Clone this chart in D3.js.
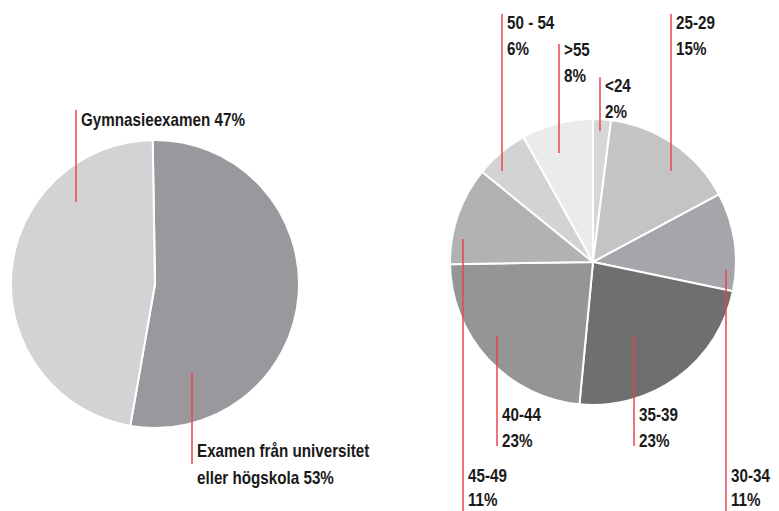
<!DOCTYPE html>
<html>
<head>
<meta charset="utf-8">
<script src="https://cdn.jsdelivr.net/npm/d3@7"></script>
<style>
  html, body { margin: 0; padding: 0; background: #fff; }
  svg text {
    font-family: "Liberation Sans Narrow", "Arial Narrow", "Liberation Sans", sans-serif;
    font-weight: bold;
    font-size: 19px;
    fill: #1a1a1a;
  }
</style>
</head>
<body>
<svg id="chart" width="779" height="511"></svg>
<script>
(function () {
  // ==================
  // Data
  // ==================
  const educationLabels = ['Examen från universitet', 'Gymnasieexamen'];
  const educationValues = [53, 47];
  const educationColors = ['#99989c', '#d3d2d5'];

  const ageGroups = ['<24', '25-29', '30-34', '35-39', '40-44', '45-49', '50 - 54', '>55'];
  const ageValues = [2, 15, 11, 23, 23, 11, 6, 8];
  const ageColors = ['#d6d5d8', '#c4c3c5', '#a6a5a9', '#6f6e70', '#959497', '#b2b1b4', '#d3d2d5', '#ebebeb'];

  const LEADER_COLOR = '#e8454e';
  const TEXT_SQUEEZE = 0.8; // condensed face is not installed, squeeze the regular one

  // ==================
  // Layout
  // ==================
  const LEFT_CX = 155;
  const LEFT_CY = 284;
  const LEFT_R = 144;
  const RIGHT_CX = 593;
  const RIGHT_CY = 262;
  const RIGHT_R = 143;

  // leader line + label placement, relative to pie center (index follows the data arrays)
  const educationLabelLayout = [
    { x: 37, y1: 89, y2: 180, lines: [educationLabels[0], 'eller högskola ' + educationValues[0] + '%'], ty: 173 },
    { x: -79, y1: -174, y2: -82, lines: [educationLabels[1] + ' ' + educationValues[1] + '%'], ty: -158 }
  ];
  const ageLabelLayout = [
    { x: 7, y1: -185, y2: -131, ty: -170, gap: 26 },
    { x: 78, y1: -248, y2: -91, ty: -233, gap: 26 },
    { x: 133, y1: 8, y2: 249, ty: 220, gap: 24 },
    { x: 41, y1: 74, y2: 184, ty: 159, gap: 26 },
    { x: -96, y1: 74, y2: 184, ty: 159, gap: 26 },
    { x: -130, y1: -23, y2: 249, ty: 220, gap: 24 },
    { x: -91, y1: -248, y2: -91, ty: -233, gap: 26 },
    { x: -34, y1: -218, y2: -109, ty: -206, gap: 26 }
  ];

  const svg = d3.select('#chart');

  const drawPie = (cx, cy, r, values, colors, startAngle) => {
    const pie = d3.pie().sort(null).startAngle(startAngle).endAngle(startAngle + 2 * Math.PI);
    const arc = d3.arc().innerRadius(0).outerRadius(r);
    const g = svg.append('g').attr('transform', `translate(${cx}, ${cy})`);
    g.selectAll('path')
      .data(pie(values))
      .join('path')
      .attr('d', arc)
      .attr('fill', (d, i) => colors[i])
      .attr('stroke', '#fff')
      .attr('stroke-width', 2)
      .attr('stroke-linejoin', 'round');
    return g;
  };

  const addLeader = (g, l) => {
    g.append('line')
      .attr('x1', l.x).attr('x2', l.x)
      .attr('y1', l.y1).attr('y2', l.y2)
      .attr('stroke', LEADER_COLOR)
      .attr('stroke-width', 1.5);
  };

  const addText = (g, x, y, str) => {
    const t = g.append('text')
      .attr('x', x)
      .attr('y', y)
      .text(str);
    const w = t.node().getComputedTextLength();
    t.attr('textLength', w * TEXT_SQUEEZE).attr('lengthAdjust', 'spacingAndGlyphs');
  };

  // ==================
  // Left pie: education
  // ==================
  const leftGroup = drawPie(LEFT_CX, LEFT_CY, LEFT_R, educationValues, educationColors, -0.016);

  educationLabelLayout.forEach((l) => {
    addLeader(leftGroup, l);
    l.lines.forEach((t, j) => addText(leftGroup, l.x + 5, l.ty + j * 27, t));
  });

  // ==================
  // Right pie: age groups
  // ==================
  const rightGroup = drawPie(RIGHT_CX, RIGHT_CY, RIGHT_R, ageValues, ageColors, 0);

  ageLabelLayout.forEach((l, i) => {
    addLeader(rightGroup, l);
    addText(rightGroup, l.x + 5, l.ty, ageGroups[i]);
    addText(rightGroup, l.x + 5, l.ty + l.gap, ageValues[i] + '%');
  });
})();
</script>
</body>
</html>
